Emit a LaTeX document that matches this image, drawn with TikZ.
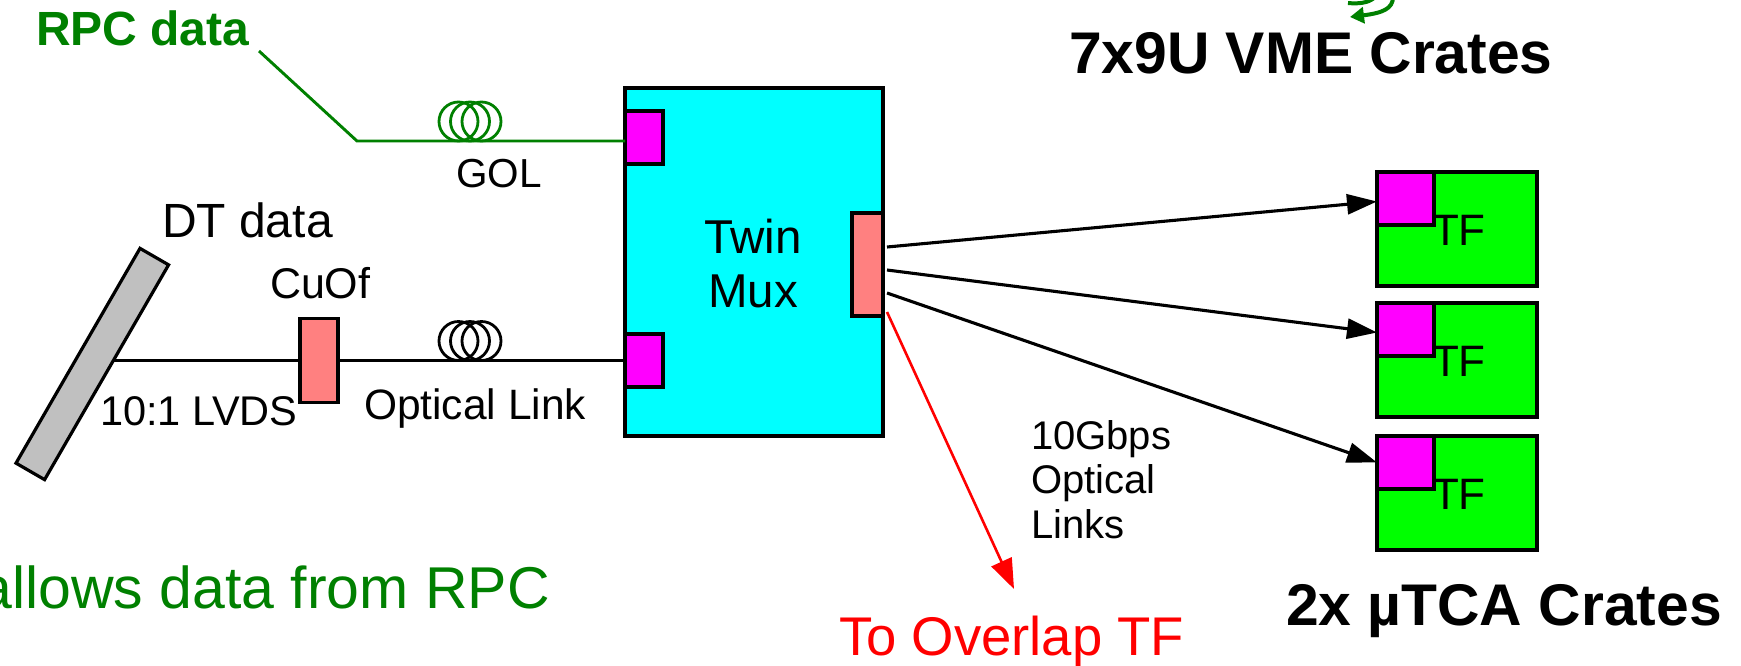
\documentclass[tikz,border=0pt]{standalone}
\usepackage{fontspec}
\setmainfont{Liberation Sans}
\usetikzlibrary{arrows.meta,calc}
\definecolor{dkgreen}{HTML}{008000}
\definecolor{cyanbox}{HTML}{00FFFF}
\definecolor{magbox}{HTML}{FF00FF}
\definecolor{salmon}{HTML}{FF8080}
\definecolor{tfgreen}{HTML}{00FF00}
\definecolor{barg}{HTML}{C0C0C0}
\begin{document}
\begin{tikzpicture}[x=1pt,y=-1pt,
  box/.style={draw=black,line width=3.2pt,inner sep=0pt,outer sep=0pt,anchor=north west},
  lbl/.style={inner sep=0pt,outer sep=0pt,anchor=base west},
  fs/.style={font=\fontsize{#1}{#1}\selectfont},
  link/.style={draw=black,line width=3.1pt,-{Triangle[length=30pt,width=20pt]}},
  coil/.style={line width=2.8pt}
]
\useasboundingbox (0,0) rectangle (1741,665);

% Twin Mux
\node[box,fill=cyanbox,minimum width=258pt,minimum height=348pt] (tmux) at (625,88) {};
\node[box,fill=magbox,minimum width=38pt,minimum height=53pt] (magA) at (625,111) {};
\node[box,fill=magbox,minimum width=38pt,minimum height=53pt] (magB) at (625,334) {};
\node[box,fill=salmon,minimum width=31pt,minimum height=103pt] (port) at (852,213) {};
\node[inner sep=0pt,anchor=base,fs=47.5] (twin) at (753,253) {Twin};
\node[inner sep=0pt,anchor=base,fs=47.5] (mux) at (753,307) {Mux};

% TF boxes
\foreach \i/\y in {1/172,2/303,3/436}{
  \node[box,fill=tfgreen,minimum width=160pt,minimum height=114pt] (tf\i) at (1377,\y) {};
  \node[box,fill=magbox,minimum width=57pt,minimum height=53pt] (m\i) at (1377,\y) {};
  \node[lbl,fs=44] (tft\i) at (1432,\y+73) {TF};
}

% DT bar
\node[draw=black,line width=3.2pt,fill=barg,rotate=60,minimum width=248pt,minimum height=33pt,inner sep=0pt] (bar) at (92.3,364) {};

% CuOf converter
\node[box,fill=salmon,minimum width=38pt,minimum height=84pt] (cuof) at (300,318.5) {};

% RPC line
\coordinate (rpcstart) at (259,51);
\coordinate (rpcbend) at (357,141);
\draw[dkgreen,line width=2.9pt] (rpcstart) -- (rpcbend) -- (rpcbend -| magA.west);
\foreach \cx in {458.5,470,481.5}
  \draw[dkgreen,coil] (\cx,121.5) circle[radius=19.5pt];

% DT line
\coordinate (dtout) at (113,360.5);
\draw[black,line width=2.9pt] (dtout) -- (cuof.west);
\draw[black,line width=2.9pt] (cuof.east) -- (magB.west);
\foreach \cx in {458.5,470,481.5}
  \draw[black,coil] (\cx,341) circle[radius=19.5pt];

% links to TF
\coordinate (o1) at (887,247);
\coordinate (o2) at (887,270);
\coordinate (o3) at (887,293);
\draw[link] (o1) -- ([yshift=-3pt]m1.west);
\draw[link] (o2) -- ([yshift=-3pt]m2.west);
\draw[link] (o3) -- (m3.west);

% red arrow
\coordinate (r0) at (887,312);
\coordinate (r1) at (1014,589);
\draw[red,line width=2.6pt,-{Triangle[length=30pt,width=22pt]}] (r0) -- (r1);

% green curled arrow at top
\coordinate (g0) at (1393,-3);
\coordinate (g1) at (1350,17);
\draw[dkgreen,line width=4pt,-{Triangle[length=14pt,width=16pt]}] (g0) .. controls (1393,9) and (1382,13) .. (g1);
\coordinate (g2) at (1348,3);
\coordinate (g3) at (1374,-2);
\draw[dkgreen,line width=4pt] (g2) .. controls (1358,4) and (1368,3) .. (g3);

% labels
\node[lbl,text=dkgreen,font=\bfseries\fontsize{48}{48}\selectfont] (rpclbl) at (36,45) {RPC data};
\node[lbl,fs=40.5] (gol) at (456,187) {GOL};
\node[lbl,fs=48] (dtlbl) at (162,237) {DT data};
\node[lbl,fs=43] (cuoflbl) at (270,298) {CuOf};
\node[lbl,fs=41.5] (lvds) at (100,425) {10:1 LVDS};
\node[lbl,fs=42.5] (optl) at (364,419) {Optical Link};
\node[lbl,fs=40] (gb1) at (1031,449) {10Gbps};
\node[lbl,fs=40] (gb2) at (1031,493) {Optical};
\node[lbl,fs=40] (gb3) at (1031,538) {Links};
\node[lbl,text=red,fs=54.5] (overlap) at (839,655) {To Overlap TF};
\node[lbl,font=\bfseries\fontsize{58.8}{58.8}\selectfont] (vme) at (1069,73) {7x9U VME Crates};
\node[lbl,font=\bfseries\fontsize{58.8}{58.8}\selectfont] (utca) at (1286,625) {2x µTCA Crates};
\node[inner sep=0pt,anchor=base east,text=dkgreen,fs=59] (allows) at (550,608) {allows data from RPC};
\end{tikzpicture}
\end{document}
